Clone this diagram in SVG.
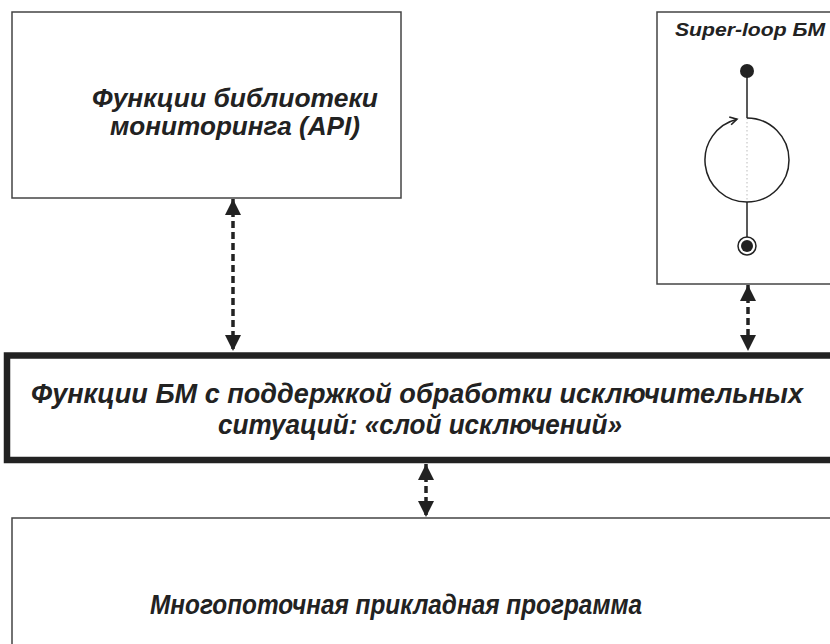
<svg xmlns="http://www.w3.org/2000/svg" width="830" height="644" viewBox="0 0 830 644">
<style>
.box{fill:#fff;stroke:#444;stroke-width:1.5}
.thick{fill:#fff;stroke:#222;stroke-width:6.5}
.t{font-family:"Liberation Sans",Arial,sans-serif;font-weight:bold;font-style:italic;fill:#222;text-anchor:middle}
.con{stroke:#222;stroke-width:3.5;stroke-dasharray:7 4;fill:none}
.ln{stroke:#222;stroke-width:1.5;fill:none}
</style>
<defs>
<marker id="ah" viewBox="0 0 10 10" refX="10" refY="5" markerWidth="16" markerHeight="16" markerUnits="userSpaceOnUse" orient="auto-start-reverse">
<path d="M0,0 L10,5 L0,10 z" fill="#222"/>
</marker>
<marker id="oa" viewBox="0 0 10 10" refX="8" refY="5" markerWidth="10" markerHeight="10" markerUnits="userSpaceOnUse" orient="auto">
<path d="M1,1 L8,5 L1,9" fill="none" stroke="#222" stroke-width="1.6"/>
</marker>
</defs>
<rect width="830" height="644" fill="#fff"/>
<g id="api">
<rect class="box" x="12" y="12" width="389" height="186"/>
<text class="t" font-size="25" x="235" y="107" textLength="286" lengthAdjust="spacingAndGlyphs">Функции библиотеки</text>
<text class="t" font-size="25" x="235" y="135" textLength="250" lengthAdjust="spacingAndGlyphs">мониторинга (API)</text>
</g>
<g id="superloop">
<rect class="box" x="657" y="12" width="180" height="272"/>
<text class="t" font-size="19" x="750" y="36" textLength="150" lengthAdjust="spacingAndGlyphs">Super-loop БМ</text>
<circle cx="747" cy="71" r="7" fill="#222"/>
<line class="ln" x1="747" y1="71" x2="747" y2="118"/>
<line x1="747" y1="118" x2="747" y2="202" stroke="#bbb" stroke-width="1" stroke-dasharray="1.5 2.5"/>
<path class="ln" d="M747,118 A42,42 0 1 1 747,202 A42,42 0 0 1 737,119.2" marker-end="url(#oa)"/>
<line class="ln" x1="747" y1="202" x2="747" y2="237"/>
<circle cx="747" cy="246" r="9" fill="#fff" stroke="#222" stroke-width="1.5"/>
<circle cx="747" cy="246" r="6" fill="#222"/>
</g>
<g id="exceptions">
<rect class="thick" x="7" y="355.5" width="830" height="104.5"/>
<text class="t" font-size="27" x="417" y="403" textLength="772" lengthAdjust="spacingAndGlyphs">Функции БМ с поддержкой обработки исключительных</text>
<text class="t" font-size="27" x="420" y="434" textLength="404" lengthAdjust="spacingAndGlyphs">ситуаций: «слой исключений»</text>
</g>
<g id="app">
<rect class="box" x="12" y="518" width="830" height="140"/>
<text class="t" font-size="27" x="396" y="614" textLength="492" lengthAdjust="spacingAndGlyphs">Многопоточная прикладная программа</text>
</g>
<g id="connectors">
<line class="con" x1="233" y1="199" x2="233" y2="351" marker-start="url(#ah)" marker-end="url(#ah)"/>
<line class="con" x1="748" y1="285" x2="748" y2="351" marker-start="url(#ah)" marker-end="url(#ah)"/>
<line class="con" x1="426" y1="464" x2="426" y2="517" marker-start="url(#ah)" marker-end="url(#ah)"/>
</g>
</svg>
